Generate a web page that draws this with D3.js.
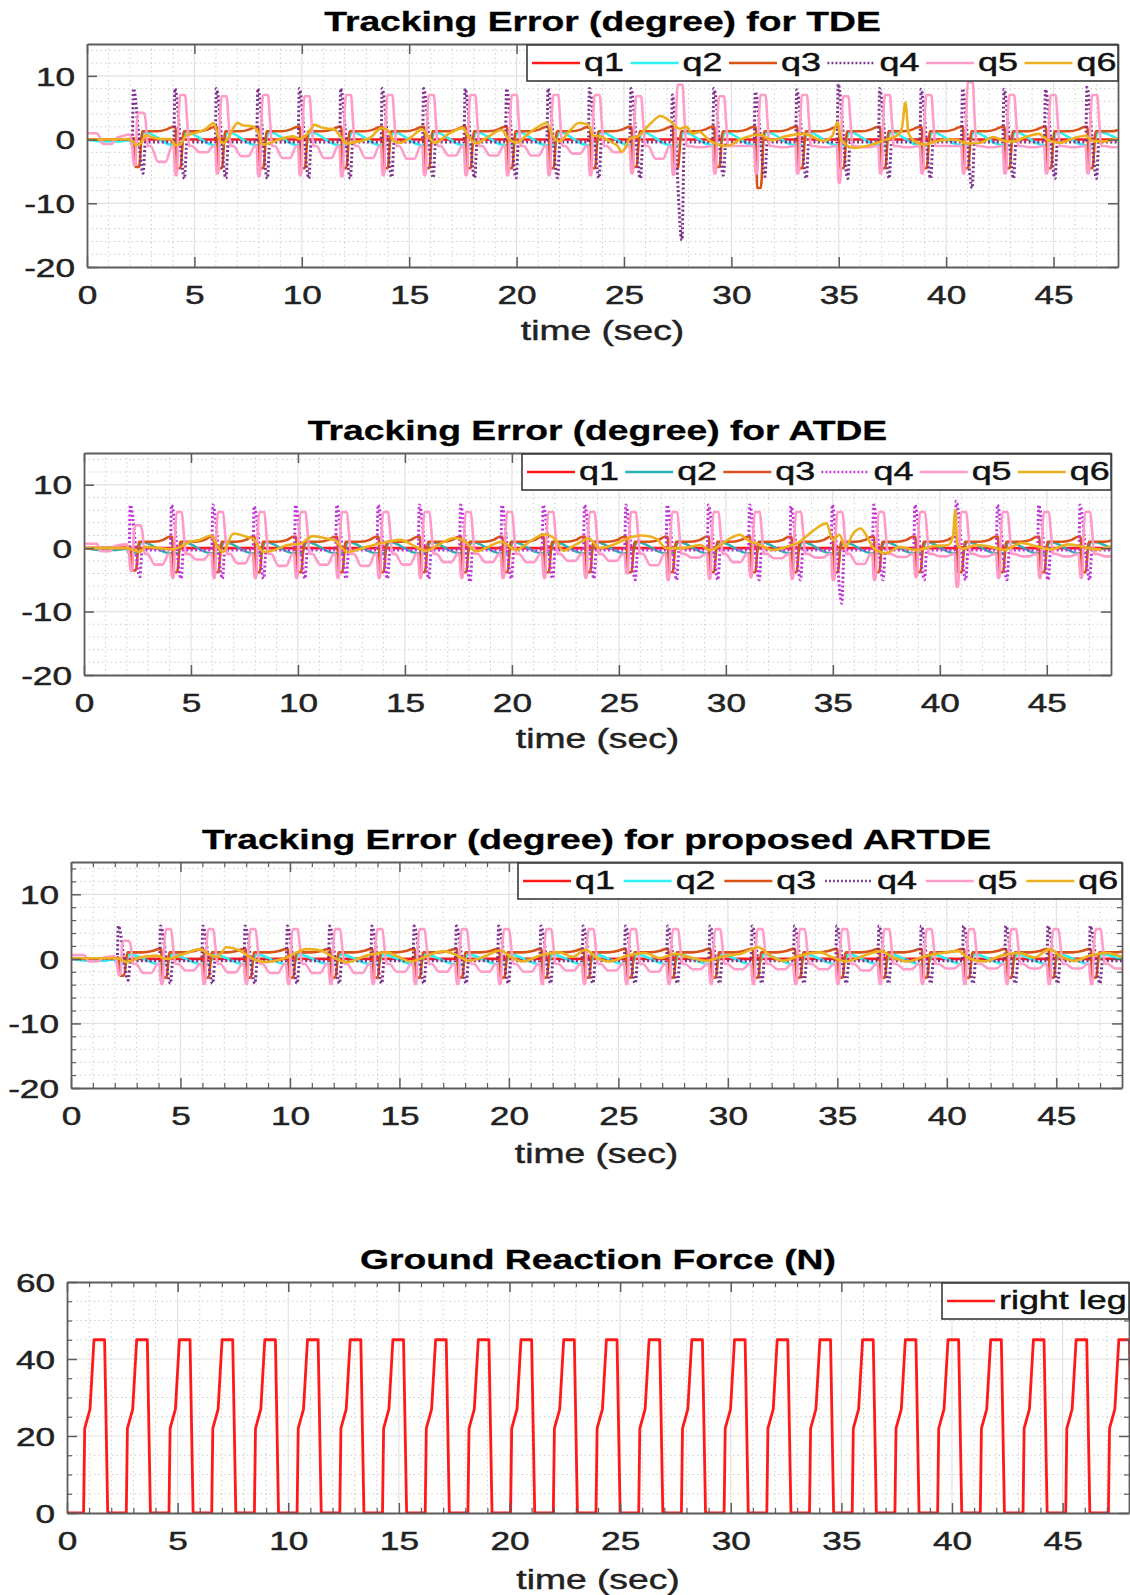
<!DOCTYPE html>
<html>
<head>
<meta charset="utf-8">
<script src="https://cdn.jsdelivr.net/npm/d3@7"></script>
<style>
  html, body { margin: 0; padding: 0; background: #fff; }
  svg { display: block; }
</style>
</head>
<body>
<svg id="fig" width="1130" height="1595"></svg>
<script>
// ------------------------------------------------------------------
// Data
// ------------------------------------------------------------------
const timeDomain = [0, 48];
const timeTicks = [0, 5, 10, 15, 20, 25, 30, 35, 40, 45];
const errorTicks = [-20, -10, 0, 10];
const forceTicks = [0, 20, 40, 60];
const jointNames = ["q1", "q2", "q3", "q4", "q5", "q6"];
const forceName = ["right leg"];

// time of each stride (swing-leg peak of q4), seconds
const strideOnsets = [2.16, 4.09, 6.02, 7.95, 9.88, 11.81, 13.74, 15.67, 17.60, 19.53, 21.46, 23.39,
                      25.32, 27.25, 29.18, 31.11, 33.04, 34.97, 36.90, 38.83, 40.76, 42.69, 44.62, 46.55];

// per-stride waveform knots: [seconds after stride onset, level]
const q1Shape = [[-0.05, 0], [0.08, "q1Dip"], [0.25, 0.15], [0.5, 0], [1.84, 0]];
const q2Shape = [[-0.05, "q2Lo"], [0.3, "q2Lo"], [0.52, "q2Hi"], [1.84, "q2Lo"]];
const q3Shape = [[-0.05, "pre"], [0.03, "pre"], [0.09, "dip"], [0.26, "dip"], [0.42, "q3Base"],
                 [1.1, "q3Base"], [1.55, "q3Mid"], [1.84, "preNext"]];
const q4Shape = [[-0.05, "q4Base"], [0, "peak"], [0.45, "trough"], [0.56, "q4Base"], [1.84, "q4Base"]];
const q5Shape = [[-0.06, "q5Base"], [0.02, "dip"], [0.1, "dip"], [0.17, "q5Rise"], [0.25, "peak"],
                 [0.48, "peak"], [0.57, "q5Rise"], [0.67, "q5Base"], [0.8, "q5Base"], [1.15, "sag"],
                 [1.5, "sag"], [1.8, "q5Base"]];

// ---- TDE ----
const tdeLevels = { q1Dip: -0.4, q2Lo: -0.9, q2Hi: 1.2, q3Base: 1.3, q3Mid: 1.6, q4Base: -0.4, q5Base: -1.0, q5Rise: 3.0 };
const tdeQ3Pre    = [0.2, 2.0, 2.0, 2.0, 2.0, 2.0, 2.0, 2.0, 2.0, 2.0, 2.0, 2.0, 2.0, 2.0, 2.0, 2.0, 2.0, 2.0, 2.0, 2.0, 2.0, 2.0, 2.0, 2.0];
const tdeQ3Dip    = [-4.3, -4.5, -4.5, -4.5, -4.5, -4.5, -4.5, -4.5, -4.5, -4.5, -4.5, -4.5, -4.3, -4.5, -4.3, -7.6, -4.5, -4.5, -4.5, -4.5, -4.5, -4.5, -4.5, -4.5];
const tdeQ4Peak   = [8.0, 8.0, 8.0, 8.0, 8.0, 8.0, 8.0, 8.0, 8.0, 8.0, 8.0, 8.0, 8.0, 7.0, 8.0, 7.5, 7.8, 8.7, 8.0, 7.9, 8.0, 7.9, 7.9, 8.2];
const tdeQ4Trough = [-5.3, -6.1, -6.1, -6.1, -6.1, -6.1, -5.9, -6.0, -6.0, -6.0, -6.0, -6.0, -6.1, -15.8, -5.6, -5.8, -6.1, -6.1, -6.1, -6.1, -7.6, -6.1, -6.1, -6.1];
const tdeQ5Peak   = [4.2, 7.0, 6.8, 7.0, 6.8, 7.0, 7.0, 7.0, 7.0, 7.0, 7.0, 7.0, 6.8, 8.6, 6.8, 7.0, 7.0, 6.8, 7.0, 7.0, 9.0, 7.0, 7.0, 7.0];
const tdeQ5Dip    = [-4.0, -5.6, -5.3, -5.8, -5.6, -5.8, -5.6, -5.6, -5.6, -5.6, -5.6, -5.6, -5.3, -5.5, -5.3, -5.3, -5.3, -6.8, -5.3, -5.3, -5.3, -5.3, -5.3, -5.3];
const tdeQ5Sag    = [-3.5, -2.0, -2.6, -2.9, -2.9, -2.9, -3.0, -2.5, -2.5, -2.5, -2.2, -2.0, -3.0, -1.2, -1.0, -1.2, -1.2, -1.2, -1.2, -1.0, -1.2, -1.2, -1.2, -1.2];
const tdeQ5Start  = [[0, 1.0], [0.45, 1.0], [0.6, 0.3], [0.75, -0.7], [1.15, -0.7], [1.3, 0.1], [1.7, 0.6], [2.0, 0.8]];
const tdeQ6 = [[0, 0], [1.9, 0.05], [2.15, -0.3], [2.3, -0.9], [2.55, -0.4], [2.75, 0.7], [3.0, 0.4], [3.4, 0.1], [3.9, 0.1],
  [4.1, -0.9], [4.35, -0.7], [4.6, 0.6], [5.0, 1.0], [5.5, 1.6], [5.9, 2.6], [6.1, 0.5], [6.35, -0.6], [6.6, 0.4], [7.0, 2.6],
  [7.3, 2.2], [7.7, 2.1], [7.95, 1.2], [8.2, -0.8], [8.5, -0.6], [9.0, 0.1], [9.6, 0.5], [9.9, 0.1], [10.3, 1.0], [10.6, 2.3],
  [11.0, 1.8], [11.5, 1.6], [11.8, 0.5], [12.1, -0.6], [12.5, -0.4], [13.2, 0.3], [13.7, 1.8], [14.0, 1.5], [14.3, -0.3],
  [14.6, -0.5], [15.1, 0.4], [15.6, 1.6], [15.9, 0.4], [16.2, -0.5], [16.8, 0.8], [17.5, 1.8], [17.8, 0.3], [18.1, -0.6],
  [18.7, 0.5], [19.3, 1.5], [19.6, 0.2], [20.0, -0.5], [20.5, 0.8], [21.0, 2.0], [21.4, 2.6], [21.7, 0.5], [22.0, -0.3],
  [22.5, 1.5], [22.9, 2.6], [23.3, 2.4], [23.6, 0.6], [23.9, 0.5], [24.3, -0.2], [24.7, -1.0], [24.9, -1.9], [25.3, 0.2],
  [25.6, 0.4], [26.2, 2.4], [26.7, 3.7], [27.1, 3.0], [27.6, 1.7], [27.9, 2.0], [28.2, 0.9], [28.5, 1.2], [29.0, -0.2],
  [29.8, -1.0], [30.4, 0], [31.3, 0.8], [31.9, -0.1], [32.5, 0.5], [33.4, 0.9], [34.3, -0.2], [34.7, 0.6], [34.95, 2.8],
  [35.1, 0], [35.7, -1.3], [36.3, -1.0], [37.2, 0], [37.8, 0.8], [37.95, 2.0], [38.1, 5.8], [38.25, 1.0], [38.5, -0.2],
  [39.0, -0.8], [39.6, -0.2], [40.4, 0], [41.0, -0.6], [41.6, -0.5], [42.2, 0.4], [42.7, -0.2], [43.1, -0.3], [43.7, 0.4],
  [44.3, 0.9], [44.7, 0], [45.3, -0.5], [46.0, 0.3], [46.5, 0.6], [46.8, -0.2], [47.3, -0.3], [48, 0.2]];

// ---- ATDE ----
const atdeLevels = { q1Dip: -0.3, q2Lo: -0.8, q2Hi: 1.0, q3Base: 1.0, q3Mid: 1.3, q4Base: -0.3, q5Base: -0.9, q5Rise: 2.5 };
const atdeQ3Pre    = [0.2, 1.8, 1.8, 1.8, 1.8, 1.8, 1.8, 1.8, 1.8, 1.8, 1.8, 1.8, 1.8, 1.8, 1.8, 1.8, 1.8, 1.8, 1.8, 1.8, 1.8, 1.8, 1.8, 1.8];
const atdeQ3Dip    = [-3.5, -3.8, -3.8, -3.8, -3.8, -3.8, -3.8, -3.8, -3.8, -3.8, -3.8, -3.8, -3.8, -3.8, -3.8, -3.8, -3.8, -3.8, -3.8, -3.8, -3.8, -3.8, -3.8, -3.8];
const atdeQ4Peak   = [6.8, 6.8, 6.8, 6.6, 6.8, 6.8, 6.8, 6.8, 6.8, 6.8, 6.8, 6.8, 6.8, 6.8, 6.8, 6.8, 6.6, 6.8, 6.8, 6.8, 7.4, 6.8, 6.8, 6.8];
const atdeQ4Trough = [-4.5, -4.8, -4.8, -4.8, -4.8, -4.8, -4.8, -4.8, -5.3, -4.8, -4.8, -4.8, -5.0, -5.0, -5.0, -5.0, -5.0, -8.7, -5.0, -5.0, -5.0, -5.0, -5.0, -5.0];
const atdeQ5Peak   = [3.6, 5.7, 5.7, 5.7, 5.7, 5.7, 5.7, 5.7, 5.7, 5.7, 5.7, 5.7, 5.7, 5.7, 5.7, 5.7, 5.7, 5.7, 5.7, 5.7, 5.7, 5.7, 5.7, 5.7];
const atdeQ5Dip    = [-3.6, -4.7, -4.7, -4.7, -4.7, -4.7, -4.7, -4.7, -4.7, -4.7, -4.7, -4.7, -4.0, -5.0, -4.8, -4.6, -4.8, -5.0, -5.0, -4.6, -6.1, -4.7, -4.7, -4.7];
const atdeQ5Sag    = [-2.6, -1.8, -2.4, -2.8, -2.6, -2.8, -2.6, -2.2, -2.2, -2.2, -2.0, -2.0, -2.7, -1.5, -2.2, -1.6, -1.5, -2.5, -1.4, -1.3, -1.3, -1.3, -1.3, -1.3];
const atdeQ5Start  = [[0, 0.7], [0.6, 0.7], [0.8, -0.5], [1.2, -0.5], [1.4, 0.3], [2.0, 0.6]];
const atdeQ6 = [[0, 0], [2.0, 0], [2.3, -0.3], [2.6, -0.6], [2.9, 0.2], [3.5, 0], [4.1, -0.2], [4.5, 0.2], [4.95, 1.0],
  [5.4, 1.3], [5.95, 2.0], [6.2, 0.5], [6.5, -0.6], [6.98, 2.3], [7.6, 1.8], [7.9, 1.5], [8.4, -0.6], [8.9, -0.3], [9.5, 0.5],
  [10.1, 0.7], [10.7, 1.9], [11.35, 1.5], [11.7, 1.3], [12.3, -0.6], [13.2, 0.2], [14.2, 1.0], [14.8, 1.3], [15.4, 0.4],
  [16.0, -0.4], [16.6, 0.6], [17.3, 1.6], [17.8, 1.1], [18.3, -0.5], [18.9, 0.2], [19.5, 1.0], [20.2, -0.3], [20.9, 1.2],
  [21.5, 2.2], [22.0, 1.5], [22.4, -0.4], [23.0, 0.6], [23.6, 1.5], [24.1, 0], [24.7, 0.5], [25.65, 1.8], [26.1, 2.0],
  [26.75, 1.5], [27.2, 0], [27.95, 0], [28.8, 0.5], [29.25, -0.3], [30.35, 1.8], [30.65, 2.1], [31.0, 1.3], [31.6, 0.5],
  [32.2, -0.3], [32.85, 0.2], [33.4, 0.9], [34.1, 2.8], [34.7, 3.9], [35.0, 1.3], [35.3, 2.1], [35.6, 0.2], [35.95, 2.3],
  [36.3, 3.1], [36.6, 1.8], [36.9, 0], [37.5, -0.8], [38.1, 0.2], [38.9, -0.3], [39.7, 0.3], [40.4, 0.5], [40.62, 2.0],
  [40.72, 6.0], [40.82, 0.5], [41.1, -0.1], [41.7, 0.5], [42.4, 0.2], [43.0, -0.3], [43.8, 0.8], [44.5, 0.3], [45.2, -0.2],
  [46.0, 0.6], [46.7, 0.2], [47.4, -0.2], [48, 0.3]];

// ---- proposed ARTDE ----
const artdeLevels = { q1Dip: -0.3, q2Lo: -0.8, q2Hi: 0.7, q3Base: 1.0, q3Mid: 1.2, q4Base: -0.3, q5Base: -0.8, q5Rise: 2.0 };
const artdeQ3Pre    = [0.2, 1.5, 1.5, 1.5, 1.5, 1.5, 1.5, 1.5, 1.5, 1.5, 1.5, 1.5, 1.5, 1.5, 1.5, 1.5, 1.5, 1.5, 1.5, 1.5, 1.5, 1.5, 1.5, 1.5];
const artdeQ3Dip    = [-2.6, -2.9, -2.9, -2.9, -2.9, -2.9, -2.9, -2.9, -2.9, -2.9, -2.9, -2.9, -2.9, -2.9, -2.9, -2.9, -2.9, -2.9, -2.9, -2.9, -2.9, -2.9, -2.9, -2.9];
const artdeQ4Peak   = [5.1, 5.1, 5.1, 5.1, 5.1, 5.1, 5.1, 5.1, 5.1, 5.1, 5.1, 5.1, 5.1, 5.1, 5.1, 5.1, 5.1, 5.1, 5.1, 5.1, 5.1, 5.1, 5.1, 5.1];
const artdeQ4Trough = [-3.3, -3.8, -3.8, -3.8, -3.8, -3.8, -3.8, -3.8, -3.8, -3.8, -3.8, -3.8, -3.8, -3.8, -3.8, -3.8, -3.8, -3.8, -3.8, -3.8, -3.8, -3.8, -3.8, -3.8];
const artdeQ5Peak   = [2.8, 4.6, 4.6, 4.6, 4.6, 4.6, 4.6, 4.6, 4.6, 4.6, 4.6, 4.6, 4.6, 4.6, 4.6, 4.6, 4.6, 4.6, 4.6, 4.6, 4.6, 4.6, 4.6, 4.6];
const artdeQ5Dip    = [-2.5, -3.9, -3.9, -3.9, -3.9, -3.9, -3.9, -3.9, -3.9, -3.9, -3.9, -3.9, -3.9, -3.9, -3.9, -3.9, -3.9, -3.9, -3.9, -3.9, -3.9, -3.9, -3.9, -3.9];
const artdeQ5Sag    = [-2.2, -1.8, -2.1, -2.2, -2.2, -2.2, -2.0, -2.0, -2.0, -2.0, -1.8, -1.8, -2.0, -1.6, -1.6, -1.6, -1.6, -1.8, -1.6, -1.5, -1.5, -1.5, -1.5, -1.5];
const artdeQ5Start  = [[0, 0.6], [0.6, 0.6], [0.8, -0.4], [1.2, -0.4], [1.5, 0.2], [2.0, 0.4]];
const artdeQ6 = [[0, 0.1], [2.0, 0.1], [2.2, 0], [2.55, -0.5], [3.15, 0.2], [3.9, 0.5], [4.4, 0], [5.1, 0.7], [5.9, 1.5],
  [6.3, 0.7], [6.7, 0.3], [7.1, 1.8], [7.7, 1.3], [8.3, 0], [8.95, -0.5], [9.85, 0.2], [10.75, 1.5], [11.4, 1.3], [12.0, 0.2],
  [12.6, -0.5], [13.5, 0.5], [14.4, 1.0], [14.9, 0.4], [15.5, -0.4], [16.3, 0.5], [17.0, 1.2], [17.6, 0.6], [18.2, -0.3],
  [18.9, 0.4], [19.6, 1.3], [20.1, 0.3], [20.6, -0.4], [21.5, 0.6], [22.3, 1.0], [22.9, 0.3], [23.5, 1.4], [24.0, 0.2],
  [24.6, -0.4], [25.4, 0.5], [26.2, 0.9], [26.9, 0.1], [27.6, 0.8], [28.3, 0.2], [29.0, -0.3], [29.8, 0.4], [30.6, 0.8],
  [31.4, 1.8], [31.9, 0.6], [32.5, -0.3], [33.3, 0.5], [34.2, 1.0], [34.8, 0.2], [35.4, -0.4], [36.2, 0.5], [37.0, 1.2],
  [37.5, 0.3], [38.2, -0.4], [39.0, 0.4], [39.8, 0.9], [40.5, 1.2], [41.0, 0.1], [41.7, -0.4], [42.5, 0.5], [43.3, 0.9],
  [44.0, 0.2], [44.7, 1.5], [45.2, 0.4], [45.8, -0.3], [46.6, 0.6], [47.3, 0.9], [48, 0.3]];

// common start-up segments before the first stride
const q1Start = [[0, 0], [2.0, 0]];
const q2Start = [[0, 0], [0.9, -0.3], [1.4, -0.3], [2.0, -0.1]];
const q3Start = [[0, 0], [2.0, 0.1]];
const q4Start = [[0, 0], [2.0, 0]];

// ---- ground reaction force ----
const stanceOnsets = [0.75, 2.68, 4.61, 6.54, 8.47, 10.40, 12.33, 14.26, 16.19, 18.12, 20.05, 21.98, 23.91,
                      25.84, 27.77, 29.70, 31.63, 33.56, 35.49, 37.42, 39.35, 41.28, 43.21, 45.14, 47.07];
const stanceShapeTime  = [0, 0.05, 0.29, 0.47, 0.95, 1.09];
const stanceShapeForce = [0, 22, 27, 45, 45, 0];

// ------------------------------------------------------------------
// Builders
// ------------------------------------------------------------------
function levelOf(key, k, per, levels) {
  if (typeof key === "number") return key;
  const next = key.endsWith("Next");
  const name = next ? key.slice(0, -4) : key;
  const src = per[name] !== undefined ? per[name] : levels[name];
  if (Array.isArray(src)) return src[Math.min(next ? k + 1 : k, src.length - 1)];
  return src;
}
function strideSeries(start, shape, per, levels) {
  const pts = start.map(d => [d[0], d[1]]);
  strideOnsets.forEach((T, k) => {
    shape.forEach(([dt, key]) => pts.push([T + dt, levelOf(key, k, per, levels)]));
  });
  return pts;
}
function jointSet(levels, q3Pre, q3Dip, q4Peak, q4Trough, q5Peak, q5Dip, q5Sag, q5Start, q6) {
  return [
    strideSeries(q1Start, q1Shape, {}, levels),
    strideSeries(q2Start, q2Shape, {}, levels),
    strideSeries(q3Start, q3Shape, { pre: q3Pre, dip: q3Dip }, levels),
    strideSeries(q4Start, q4Shape, { peak: q4Peak, trough: q4Trough }, levels),
    strideSeries(q5Start, q5Shape, { peak: q5Peak, dip: q5Dip, sag: q5Sag }, levels),
    q6
  ];
}
const grfSeries = [[0, 0]];
stanceOnsets.forEach(s => stanceShapeTime.forEach((dt, i) => grfSeries.push([s + dt, stanceShapeForce[i]])));

// ------------------------------------------------------------------
// Styling / layout
// ------------------------------------------------------------------
const FONT = '"Liberation Sans", Arial, Helvetica, sans-serif';
const SX = 1.38;              // horizontal stretch of all lettering
const TEXT_COLOR = "#222";
const AXIS_COLOR = "#5c5c5c";
const brightSet = ["#ff1a1a", "#2ef2f2", "#d95319", "#7e2f8e", "#ff9dca", "#edb120"];
const tealSet   = ["#ff1a1a", "#2bb3b3", "#d95319", "#bf30d8", "#ff99c8", "#edb120"];

const panels = [
  { id: "tde", title: "Tracking Error (degree) for TDE", l: 87, r: 1118, t: 44, b: 267, labelGap: 72.5,
    yDomain: [-20, 15], yTicks: errorTicks, yMinor: 2, minorTicks: false,
    series: jointSet(tdeLevels, tdeQ3Pre, tdeQ3Dip, tdeQ4Peak, tdeQ4Trough, tdeQ5Peak, tdeQ5Dip, tdeQ5Sag, tdeQ5Start, tdeQ6),
    names: jointNames, colors: brightSet, legendW: 591 },
  { id: "atde", title: "Tracking Error (degree) for ATDE", l: 84, r: 1111, t: 453, b: 675, labelGap: 72.5,
    yDomain: [-20, 15], yTicks: errorTicks, yMinor: 2, minorTicks: false,
    series: jointSet(atdeLevels, atdeQ3Pre, atdeQ3Dip, atdeQ4Peak, atdeQ4Trough, atdeQ5Peak, atdeQ5Dip, atdeQ5Sag, atdeQ5Start, atdeQ6),
    names: jointNames, colors: tealSet, legendW: 589 },
  { id: "artde", title: "Tracking Error (degree) for proposed ARTDE", l: 71, r: 1122, t: 862, b: 1088, labelGap: 75,
    yDomain: [-20, 15], yTicks: errorTicks, yMinor: 2, minorTicks: true,
    series: jointSet(artdeLevels, artdeQ3Pre, artdeQ3Dip, artdeQ4Peak, artdeQ4Trough, artdeQ5Peak, artdeQ5Dip, artdeQ5Sag, artdeQ5Start, artdeQ6),
    names: jointNames, colors: brightSet, legendW: 604 },
  { id: "grf", title: "Ground Reaction Force (N)", l: 67, r: 1129, t: 1282, b: 1513, labelGap: 75.5,
    yDomain: [0, 60], yTicks: forceTicks, yMinor: 5, minorTicks: true,
    series: [grfSeries], names: forceName, colors: ["#ff1a1a"], legendW: 187, linear: true }
];

const svg = d3.select("#fig");
const defs = svg.append("defs");

function stretchedText(sel, x, y, str, size, opts = {}) {
  const fill = opts.fill || TEXT_COLOR;
  return sel.append("text")
    .attr("transform", `translate(${x},${y}) scale(${SX},1)`)
    .attr("text-anchor", opts.anchor || "middle")
    .attr("font-family", FONT)
    .attr("font-size", size)
    .attr("font-weight", opts.weight || "normal")
    .attr("fill", fill)
    .attr("stroke", fill)
    .attr("stroke-width", opts.weight === "bold" ? 0.3 : 0.45)
    .text(str);
}

panels.forEach(p => {
  const x = d3.scaleLinear().domain(timeDomain).range([p.l, p.r]);
  const y = d3.scaleLinear().domain(p.yDomain).range([p.b, p.t]);
  const g = svg.append("g").attr("class", "panel-" + p.id);

  g.append("rect").attr("x", p.l).attr("y", p.t).attr("width", p.r - p.l).attr("height", p.b - p.t).attr("fill", "#fff");

  // grid
  const minorX = d3.range(1, 48).filter(v => v % 5 !== 0);
  const minorY = d3.range(p.yDomain[0] + p.yMinor, p.yDomain[1] + 0.001, p.yMinor).filter(v => !p.yTicks.includes(v));
  const grid = g.append("g");
  grid.selectAll(".mx").data(minorX).join("line")
    .attr("x1", d => x(d)).attr("x2", d => x(d)).attr("y1", p.t).attr("y2", p.b)
    .attr("stroke", "#cfcfcf").attr("stroke-width", 1).attr("stroke-dasharray", "1.5,3");
  grid.selectAll(".my").data(minorY).join("line")
    .attr("x1", p.l).attr("x2", p.r).attr("y1", d => y(d)).attr("y2", d => y(d))
    .attr("stroke", "#cfcfcf").attr("stroke-width", 1).attr("stroke-dasharray", "1.5,3");
  grid.selectAll(".gx").data(timeTicks.filter(v => v > 0)).join("line")
    .attr("x1", d => x(d)).attr("x2", d => x(d)).attr("y1", p.t).attr("y2", p.b)
    .attr("stroke", "#e2e2e2").attr("stroke-width", 1.2);
  grid.selectAll(".gy").data(p.yTicks.filter(v => v > p.yDomain[0] && v < p.yDomain[1])).join("line")
    .attr("x1", p.l).attr("x2", p.r).attr("y1", d => y(d)).attr("y2", d => y(d))
    .attr("stroke", "#e2e2e2").attr("stroke-width", 1.2);

  // data
  defs.append("clipPath").attr("id", "clip-" + p.id)
    .append("rect").attr("x", p.l).attr("y", p.t).attr("width", p.r - p.l).attr("height", p.b - p.t);
  const line = d3.line().x(d => x(d[0])).y(d => y(d[1]))
    .curve(p.linear ? d3.curveLinear : d3.curveMonotoneX);
  const dataG = g.append("g").attr("clip-path", `url(#clip-${p.id})`);
  p.series.forEach((s, i) => {
    const dotted = p.names[i] === "q4";
    dataG.append("path").datum(s).attr("d", line)
      .attr("fill", "none").attr("stroke", p.colors[i])
      .attr("stroke-width", dotted ? 3 : (p.linear ? 2.8 : 2.6))
      .attr("stroke-dasharray", dotted ? "2,2.4" : null)
      .attr("stroke-linejoin", "round");
  });

  // axes: ticks on all four sides, pointing inward
  const styleAxis = a => {
    a.select(".domain").attr("stroke", AXIS_COLOR).attr("stroke-width", 1.8);
    a.selectAll(".tick line").attr("stroke", AXIS_COLOR).attr("stroke-width", 1.5);
    a.attr("font-family", FONT);
  };
  const tickText = sel => sel.attr("transform", `scale(${SX},1)`).attr("font-size", 25.5)
    .attr("fill", TEXT_COLOR).attr("stroke", TEXT_COLOR).attr("stroke-width", 0.45);
  g.append("g").attr("transform", `translate(0,${p.b})`)
    .call(d3.axisBottom(x).tickValues(timeTicks).tickSize(-10).tickSizeOuter(0).tickFormat(d3.format("d")))
    .call(styleAxis)
    .call(a => a.selectAll(".tick text").attr("y", 37).attr("dy", null).call(tickText));
  g.append("g").attr("transform", `translate(0,${p.t})`)
    .call(d3.axisTop(x).tickValues(timeTicks).tickSize(-10).tickSizeOuter(0).tickFormat(""))
    .call(styleAxis);
  g.append("g").attr("transform", `translate(${p.l},0)`)
    .call(d3.axisLeft(y).tickValues(p.yTicks).tickSize(-10).tickSizeOuter(0).tickFormat(d3.format("d")))
    .call(styleAxis)
    .call(a => a.selectAll(".tick text").attr("x", -12 / SX).attr("dy", "0.36em").call(tickText)
      .text(d => d < 0 ? "-" + Math.abs(d) : d));
  g.append("g").attr("transform", `translate(${p.r},0)`)
    .call(d3.axisRight(y).tickValues(p.yTicks).tickSize(-10).tickSizeOuter(0).tickFormat(""))
    .call(styleAxis);

  if (p.minorTicks) {
    const minorAxis = (axisFn, scale, vals, tr) => g.append("g").attr("transform", tr)
      .call(axisFn(scale).tickValues(vals).tickSize(-5).tickSizeOuter(0).tickFormat(""))
      .call(a => { a.select(".domain").remove(); a.selectAll(".tick line").attr("stroke", AXIS_COLOR).attr("stroke-width", 1.2); });
    minorAxis(d3.axisBottom, x, minorX, `translate(0,${p.b})`);
    minorAxis(d3.axisTop, x, minorX, `translate(0,${p.t})`);
    minorAxis(d3.axisLeft, y, minorY, `translate(${p.l},0)`);
    minorAxis(d3.axisRight, y, minorY, `translate(${p.r},0)`);
  }

  // title and axis label
  const cx = (p.l + p.r) / 2;
  stretchedText(g, cx, p.t - 13, p.title, 27, { weight: "bold", fill: "#000" });
  stretchedText(g, cx, p.b + p.labelGap, "time (sec)", 27);

  // legend
  const lh = 36, lw = p.legendW, lx = p.r - lw, ly = p.t + 1;
  const leg = g.append("g");
  leg.append("rect").attr("x", lx).attr("y", ly).attr("width", lw).attr("height", lh)
    .attr("fill", "#fff").attr("stroke", "#3a3a3a").attr("stroke-width", 1.6);
  const pitch = lw / p.names.length;
  p.names.forEach((name, i) => {
    const ix = lx + i * pitch;
    const dotted = name === "q4";
    leg.append("line").attr("x1", ix + 5).attr("x2", ix + 53).attr("y1", ly + lh / 2).attr("y2", ly + lh / 2)
      .attr("stroke", p.colors[i]).attr("stroke-width", dotted ? 2.6 : 2.6)
      .attr("stroke-dasharray", dotted ? "1.8,2.2" : null);
    stretchedText(leg, ix + 57, ly + lh / 2 + 8, name, 26, { anchor: "start", fill: "#111" });
  });
});
</script>
</body>
</html>
